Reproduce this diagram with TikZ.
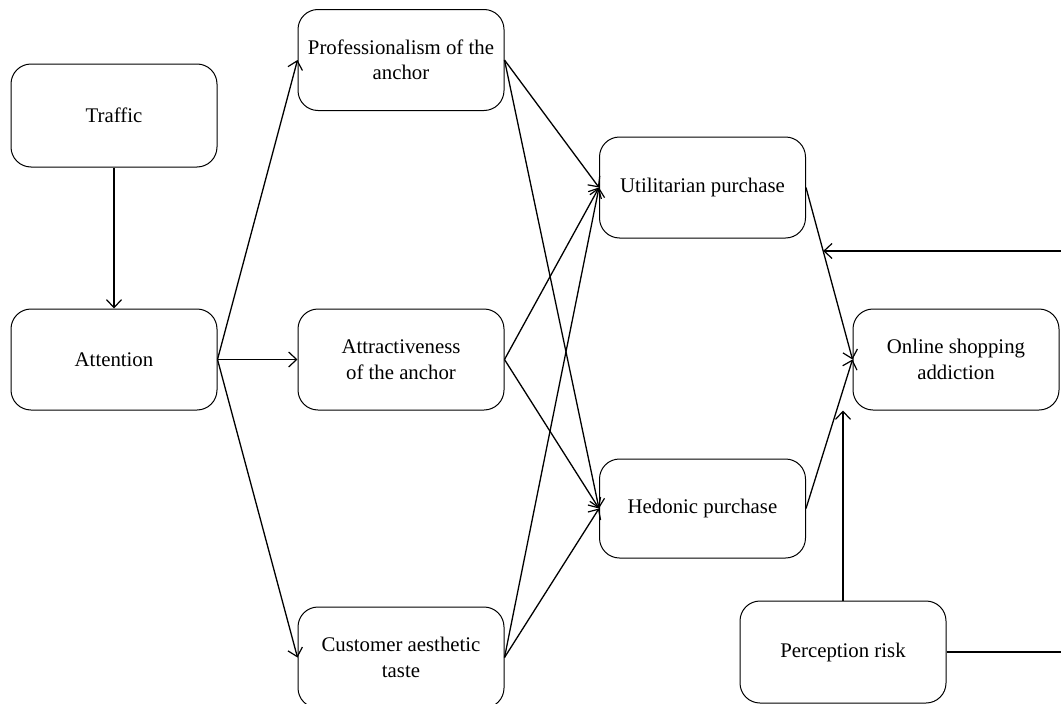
\documentclass[tikz,border=0pt]{standalone}
\usepackage{fontspec}
\setmainfont{Liberation Serif}
\usetikzlibrary{arrows.meta,calc}
\begin{document}
\begin{tikzpicture}[x=1pt,y=-1pt,
  box/.style={draw=black,line width=1pt,rounded corners=20pt,minimum width=206pt,minimum height=101pt,align=center,inner sep=2pt,font=\fontsize{20.8}{25.5}\selectfont},
  conn/.style={line width=1.3pt,-{Straight Barb[length=8pt,width=15pt,line width=1.2pt]}},
  plain/.style={line width=1.3pt}]
\useasboundingbox (0,0) rectangle (1061,704);
\clip (0,0) rectangle (1061,704);
\node[box,minimum height=103pt] (traffic) at (114,115.5) {Traffic};
\node[box] (attention) at (114,359.5) {Attention};
\node[box] (prof) at (401,60) {Professionalism of the\\anchor};
\node[box] (attract) at (401,359.5) {Attractiveness\\of the anchor};
\node[box] (cust) at (401,657.5) {Customer aesthetic\\taste};
\node[box] (util) at (702.5,187.5) {Utilitarian purchase};
\node[box,minimum height=99pt] (hed) at (702.5,508.5) {Hedonic purchase};
\node[box] (online) at (956,359.5) {Online shopping\\addiction};
\node[box,minimum height=102pt] (risk) at (843,652) {Perception risk};
\coordinate (redge) at (1061,0);
\draw[conn] (traffic.south) -- (attention.north);
\draw[conn] (attention.east) -- (prof.west);
\draw[conn] (attention.east) -- (attract.west);
\draw[conn] (attention.east) -- (cust.west);
\foreach \s in {prof,attract,cust}{
  \draw[conn] (\s.east) -- (util.west);
  \draw[conn] (\s.east) -- (hed.west);
}
\draw[conn] (util.east) -- (online.west);
\draw[conn] (hed.east) -- (online.west);
\coordinate (rtip) at (risk.north |- online.south);
\draw[conn] (risk.north) -- (rtip);
\coordinate (mid) at ($(util.east)!0.369!(online.west)$);
\coordinate (modin) at (mid -| redge);
\draw[conn] (modin) -- (mid);
\coordinate (riskout) at (risk.east -| redge);
\draw[plain] (risk.east) -- (riskout);
\end{tikzpicture}
\end{document}
